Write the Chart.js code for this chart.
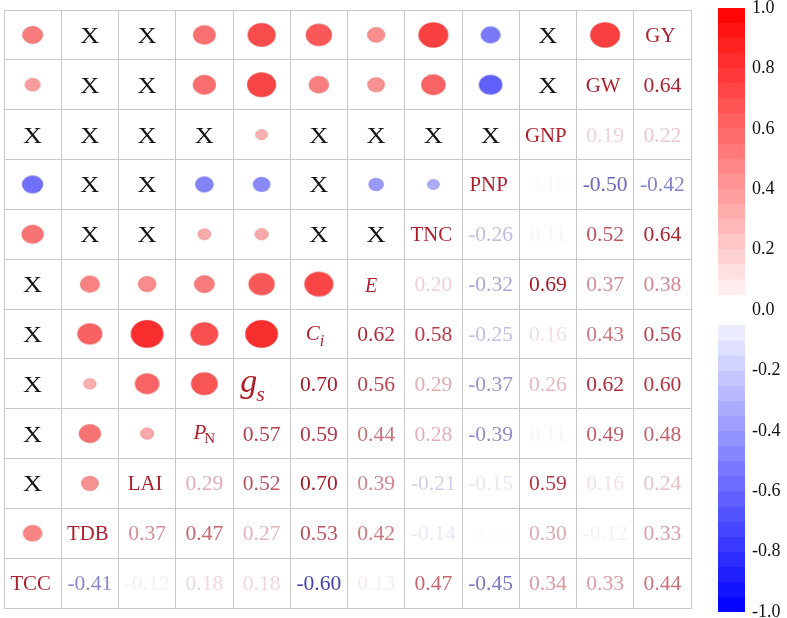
<!DOCTYPE html>
<html><head><meta charset="utf-8">
<script src="https://cdn.jsdelivr.net/npm/chart.js@4/dist/chart.umd.min.js"></script>
<style>
html,body{margin:0;padding:0;background:#fff;}
#wrap{position:relative;width:787px;height:618px;overflow:hidden;}
.box{position:absolute;top:0;height:618px;}
</style></head><body>
<div id="wrap">
  <div class="box" style="left:0;width:700px"><canvas id="main"></canvas></div>
  <div class="box" style="left:700px;width:87px"><canvas id="bar"></canvas></div>
</div>
<script>
// ---------------- DATA ----------------
const variables = ['TCC','TDB','LAI','PN','gs','Ci','E','TNC','PNP','GNP','GW','GY'];

// coefficients printed in the lower-right triangle: each variable with the variables after it
const rTCC = [-0.41,-0.12,0.18,0.18,-0.60,0.13,0.47,-0.45,0.34,0.33,0.44];
const rTDB = [0.37,0.47,0.27,0.53,0.42,-0.14,0.00,0.30,-0.12,0.33];
const rLAI = [0.29,0.52,0.70,0.39,-0.21,-0.15,0.59,0.16,0.24];
const rPN  = [0.57,0.59,0.44,0.28,-0.39,0.11,0.49,0.48];
const rGs  = [0.70,0.56,0.29,-0.37,0.26,0.62,0.60];
const rCi  = [0.62,0.58,-0.25,0.16,0.43,0.56];
const rE   = [0.20,-0.32,0.69,0.37,0.38];
const rTNC = [-0.26,0.11,0.52,0.64];
const rPNP = [0.10,-0.50,-0.42];
const rGNP = [0.19,0.22];
const rGW  = [0.64];

// circles in the upper-left triangle: each variable with the variables before it (null = X)
const cTDB = [0.41];
const cLAI = [null,0.37];
const cPN  = [null,0.47,0.29];
const cGs  = [null,0.27,0.52,0.57];
const cCi  = [null,0.53,0.70,0.59,0.70];
const cE   = [null,0.42,0.39,0.44,0.56,0.62];
const cTNC = [0.47,null,null,0.28,0.29,null,null];
const cPNP = [-0.45,null,null,-0.39,-0.37,null,-0.32,-0.26];
const cGNP = [null,null,null,null,0.26,null,null,null,null];
const cGW  = [0.33,null,null,0.49,0.62,0.43,0.37,0.52,-0.50,null];
const cGY  = [0.44,null,null,0.48,0.60,0.56,0.38,0.64,-0.42,null,0.64];

const colorbarTicks = ['1.0','0.8','0.6','0.4','0.2','0.0','-0.2','-0.4','-0.6','-0.8','-1.0'];

// ---------------- BUILD ----------------
const numberRows = [rTCC,rTDB,rLAI,rPN,rGs,rCi,rE,rTNC,rPNP,rGNP,rGW];
const circleRows = [[],cTDB,cLAI,cPN,cGs,cCi,cE,cTNC,cPNP,cGNP,cGW,cGY];
const N = variables.length;
const rowOf = i => N-1-i;   // variable index -> row (top row = GY)

const circlePts = [], crossPts = [], numberPts = [], labelPts = [];
for (let i=0;i<N;i++){
  const r = rowOf(i);
  labelPts.push({x:i+0.5, y:r+0.5, name:variables[i]});
  circleRows[i].forEach((v,j)=>{
    if (v===null) crossPts.push({x:j+0.5, y:r+0.5});
    else circlePts.push({x:j+0.5, y:r+0.5, v:v});
  });
  if (i<N-1) numberRows[i].forEach((v,k)=>{
    numberPts.push({x:i+1+k+0.5, y:r+0.5, v:v});
  });
}

const SERIF = "'Liberation Serif','Times New Roman',serif";
const LABEL_COLOR = '#ae1f2d';

function circleColor(v){
  const t = Math.abs(v);
  if (v>=0){ const t2=Math.min(1,t*1.17); const g=Math.round(255*(1-t2)); return `rgb(248,${g},${g})`; }
  const t2=Math.min(1,t*1.25); const g=Math.round(255*(1-t2)); return `rgb(${g},${g},248)`;
}
function textColor(v){
  const a = Math.abs(v);
  const f = a<0.05 ? 0.012 : Math.max(0.04, Math.min(1, (a-0.08)*1.7));
  const base = v>=0 ? [168,26,40] : [42,42,160];
  const c = base.map(b=>Math.round(255*(1-f)+b*f));
  return `rgb(${c[0]},${c[1]},${c[2]})`;
}
const imgCache = {};
function ellipseImg(v,cw,ch){
  const key = v+'_'+cw.toFixed(2)+'_'+ch.toFixed(2);
  if (imgCache[key]) return imgCache[key];
  const t=Math.abs(v), rx=0.405*t*cw, ry=0.395*t*ch;
  const W=Math.ceil(2*rx)+4, H=Math.ceil(2*ry)+4;
  const c=document.createElement('canvas'); c.width=W; c.height=H;
  const g=c.getContext('2d');
  g.beginPath(); g.ellipse(W/2,H/2,rx,ry,0,0,Math.PI*2);
  g.fillStyle=circleColor(v); g.fill();
  g.lineWidth=0.8; g.strokeStyle = v>=0 ? 'rgba(200,40,40,0.35)' : 'rgba(40,40,200,0.35)'; g.stroke();
  imgCache[key]=c; return c;
}

function drawStretched(ctx,text,x,y,font,color,sx){
  ctx.save(); ctx.translate(x,y); ctx.scale(sx,1);
  ctx.font=font; ctx.fillStyle=color; ctx.textAlign='center'; ctx.textBaseline='alphabetic';
  ctx.fillText(text,0,0); ctx.restore();
}
// label appearance (rich text for the physiological symbols)
const labelStyle = {
  PN: {dx:0, parts:[{t:'P',it:true,s:21,dy:5},{t:'N',it:false,s:15,dy:9,kern:-2}]},
  gs: {dx:-9, parts:[{t:'g',it:true,s:34,dy:8},{t:'s',it:true,s:22,dy:17,kern:-1}]},
  Ci: {dx:-4, parts:[{t:'C',it:true,s:21,dy:6},{t:'i',it:true,s:16,dy:12,kern:0}]},
  E:  {dx:-5, parts:[{t:'E',it:true,s:20,dy:8}]}
};
function drawLabel(ctx,name,x,y){
  const st = labelStyle[name];
  ctx.save(); ctx.fillStyle=LABEL_COLOR; ctx.textBaseline='alphabetic'; ctx.textAlign='left';
  if (!st){
    ctx.translate(x-2,y+7); ctx.scale(1.04,1);
    ctx.font=`20px ${SERIF}`; ctx.textAlign='center';
    ctx.fillText(name,0,0); ctx.restore(); return;
  }
  let w=0; const ws=[];
  st.parts.forEach(p=>{ ctx.font=`${p.it?'italic ':''}${p.s}px ${SERIF}`; const m=ctx.measureText(p.t).width; ws.push(m); w+=m+(p.kern||0); });
  let cx = x - w/2 + st.dx;
  st.parts.forEach((p,k)=>{
    cx += (p.kern||0);
    ctx.font=`${p.it?'italic ':''}${p.s}px ${SERIF}`;
    ctx.fillText(p.t,cx,y+p.dy); cx+=ws[k];
  });
  ctx.restore();
}

const textPlugin = {
  id:'corrText',
  afterDatasetsDraw(chart){
    const {ctx, scales:{x,y}} = chart;
    crossPts.forEach(p=>{
      drawStretched(ctx,'X',x.getPixelForValue(p.x),y.getPixelForValue(p.y)+8,`23px ${SERIF}`,'#141414',1.15);
    });
    numberPts.forEach(p=>{
      drawStretched(ctx,p.v.toFixed(2),x.getPixelForValue(p.x),y.getPixelForValue(p.y)+7,`20px ${SERIF}`,textColor(p.v),1.08);
    });
    labelPts.forEach(p=>drawLabel(ctx,p.name,x.getPixelForValue(p.x),y.getPixelForValue(p.y)));
  }
};

const gridColor = '#c9c9c9';
new Chart(document.getElementById('main'),{
  type:'scatter',
  data:{datasets:[{
    data:circlePts,
    pointStyle:(c)=>{
      const a=c.chart.chartArea; const raw=c.raw;
      if(!a||!raw) return 'circle';
      return ellipseImg(raw.v,(a.right-a.left)/N,(a.bottom-a.top)/N);
    },
    pointRadius:10, clip:false
  }]},
  options:{
    responsive:true, maintainAspectRatio:false, animation:false, events:[],
    layout:{autoPadding:false,padding:{left:4,top:10,right:9,bottom:10}},
    plugins:{legend:{display:false},tooltip:{enabled:false}},
    scales:{
      x:{type:'linear',min:0,max:N,ticks:{display:false,stepSize:1},
         grid:{color:gridColor,drawTicks:false,lineWidth:1},border:{color:gridColor}},
      y:{type:'linear',min:0,max:N,reverse:true,ticks:{display:false,stepSize:1},
         grid:{color:gridColor,drawTicks:false,lineWidth:1},border:{color:gridColor}}
    }
  },
  plugins:[textPlugin]
});

// ---------------- COLOUR BAR ----------------
const bands=[];
for (let k=1;k<20;k++){
  const lo=k*0.05, hi=(k+1)*0.05, t=(lo+hi)/2;
  const g=Math.round(255*(1-t));
  bands.push({data:[[lo,hi]],backgroundColor:`rgb(255,${g},${g})`});
  bands.push({data:[[-hi,-lo]],backgroundColor:`rgb(${g},${g},255)`});
}
new Chart(document.getElementById('bar'),{
  type:'bar',
  data:{labels:[''],datasets:bands.map(b=>Object.assign(b,{grouped:false,barPercentage:1,categoryPercentage:1,borderWidth:0}))},
  options:{
    responsive:true, maintainAspectRatio:false, animation:false, events:[],
    layout:{autoPadding:false,padding:{left:18,top:8,right:0,bottom:6}},
    plugins:{legend:{display:false},tooltip:{enabled:false}},
    scales:{
      x:{display:false},
      y:{position:'right',min:-1,max:1,
         afterBuildTicks:(s)=>{ s.ticks = colorbarTicks.map(t=>({value:parseFloat(t)})); },
         afterFit:(s)=>{ s.width=42; s.paddingTop=0; s.paddingBottom=0; },
         ticks:{padding:7,color:'#111',font:{family:SERIF,size:18},
                callback:(v)=>colorbarTicks.find(t=>Math.abs(parseFloat(t)-v)<1e-6)},
         grid:{display:false,drawTicks:false},border:{display:false}}
    }
  }
});
</script>
</body></html>
